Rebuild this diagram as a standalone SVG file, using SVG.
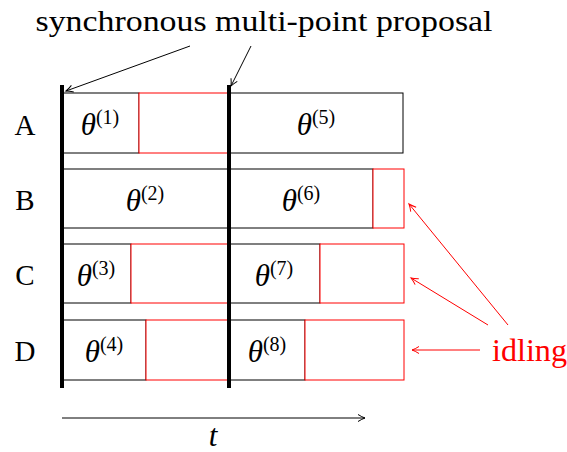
<svg xmlns="http://www.w3.org/2000/svg" width="567" height="452" viewBox="0 0 567 452">
<style>
text{font-family:"Liberation Serif","DejaVu Serif",serif;fill:#000}
.lbl{font-size:29px;text-anchor:middle}
.th{font-size:31px;text-anchor:middle}
.th tspan.i{font-style:italic}
.sup{font-size:20px}
.b{fill:#fff;stroke:#000;stroke-width:1}
.r{fill:#fff;stroke:#ff0000;stroke-width:1}
.bar{stroke:#000;stroke-width:4}
.ar{stroke:#000;stroke-width:1;fill:none}
.arr{stroke:#ff0000;stroke-width:1;fill:none}
</style>
<defs>
<marker id="ah" markerWidth="10" markerHeight="10" refX="8" refY="5" orient="auto" markerUnits="userSpaceOnUse">
<path d="M1,1.5 Q5,4 8,5 Q5,6 1,8.5" fill="none" stroke="#000" stroke-width="1"/>
</marker>
<marker id="ahr" markerWidth="10" markerHeight="10" refX="8" refY="5" orient="auto" markerUnits="userSpaceOnUse">
<path d="M1,1.5 Q5,4 8,5 Q5,6 1,8.5" fill="none" stroke="#ff0000" stroke-width="1"/>
</marker>
</defs>
<text x="264" y="31" font-size="30" text-anchor="middle" textLength="457" lengthAdjust="spacingAndGlyphs">synchronous multi-point proposal</text>
<g id="rowlabels">
<text class="lbl" x="25" y="135">A</text>
<text class="lbl" x="25" y="210">B</text>
<text class="lbl" x="25" y="285">C</text>
<text class="lbl" x="25" y="361">D</text>
</g>
<g id="rowA">
<rect class="b" x="62" y="93" width="77" height="60"/>
<rect class="r" x="139" y="93" width="90" height="60"/>
<rect class="b" x="229" y="93" width="174" height="60"/>
<text class="th" x="100" y="135"><tspan class="i">θ</tspan><tspan class="sup" dy="-11">(1)</tspan></text>
<text class="th" x="316" y="135"><tspan class="i">θ</tspan><tspan class="sup" dy="-11">(5)</tspan></text>
</g>
<g id="rowB">
<rect class="b" x="62" y="169" width="167" height="59"/>
<rect class="b" x="229" y="169" width="144" height="59"/>
<rect class="r" x="373" y="169" width="31" height="59"/>
<text class="th" x="145" y="211"><tspan class="i">θ</tspan><tspan class="sup" dy="-11">(2)</tspan></text>
<text class="th" x="301" y="211"><tspan class="i">θ</tspan><tspan class="sup" dy="-11">(6)</tspan></text>
</g>
<g id="rowC">
<rect class="b" x="62" y="244" width="69" height="59"/>
<rect class="r" x="131" y="244" width="98" height="59"/>
<rect class="b" x="229" y="244" width="91" height="59"/>
<rect class="r" x="320" y="244" width="84" height="59"/>
<text class="th" x="96" y="286"><tspan class="i">θ</tspan><tspan class="sup" dy="-11">(3)</tspan></text>
<text class="th" x="274" y="286"><tspan class="i">θ</tspan><tspan class="sup" dy="-11">(7)</tspan></text>
</g>
<g id="rowD">
<rect class="b" x="62" y="320" width="84" height="60"/>
<rect class="r" x="146" y="320" width="83" height="60"/>
<rect class="b" x="229" y="320" width="76" height="60"/>
<rect class="r" x="305" y="320" width="99" height="60"/>
<text class="th" x="104" y="362"><tspan class="i">θ</tspan><tspan class="sup" dy="-11">(4)</tspan></text>
<text class="th" x="267" y="362"><tspan class="i">θ</tspan><tspan class="sup" dy="-11">(8)</tspan></text>
</g>
<g id="bars">
<line class="bar" x1="62" y1="85" x2="62" y2="388"/>
<line class="bar" x1="229" y1="85" x2="229" y2="388"/>
</g>
<g id="connectors">
<line class="ar" x1="190" y1="46" x2="66" y2="91" marker-end="url(#ah)"/>
<line class="ar" x1="251" y1="46" x2="231" y2="86" marker-end="url(#ah)"/>
<line class="ar" x1="62" y1="418" x2="365" y2="418" marker-end="url(#ah)"/>
<line class="arr" x1="508" y1="325" x2="409" y2="204" marker-end="url(#ahr)"/>
<line class="arr" x1="488" y1="325" x2="411" y2="278" marker-end="url(#ahr)"/>
<line class="arr" x1="480" y1="350" x2="412" y2="350" marker-end="url(#ahr)"/>
</g>
<text x="213" y="446" font-size="31" font-style="italic" text-anchor="middle">t</text>
<text x="492" y="361" font-size="31" fill="#ff0000" style="fill:#ff0000" textLength="75" lengthAdjust="spacingAndGlyphs">idling</text>
</svg>
